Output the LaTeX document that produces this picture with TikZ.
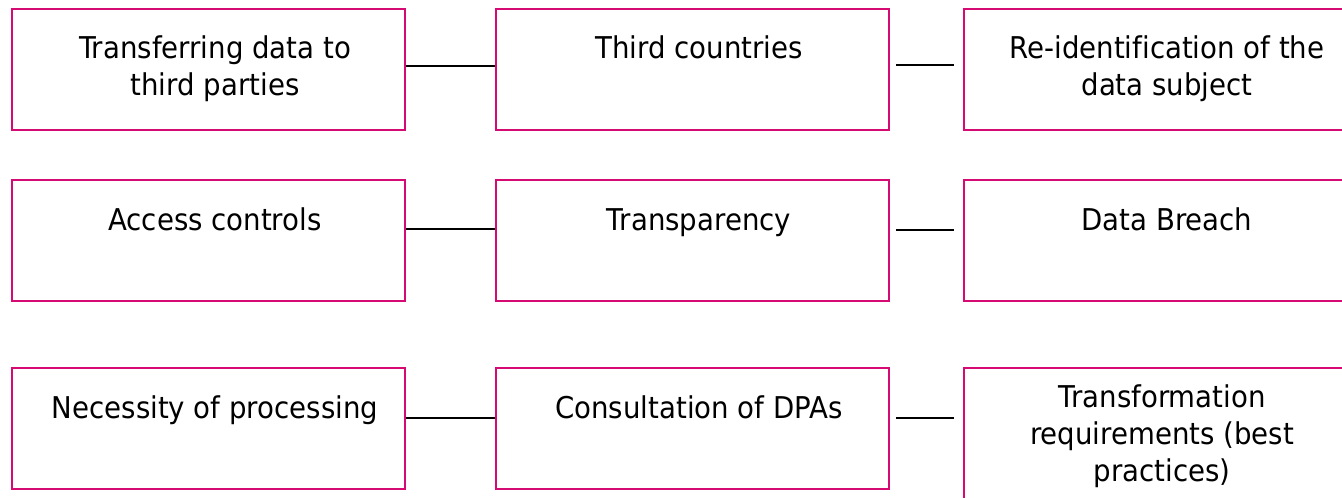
\documentclass[tikz,border=0pt]{standalone}
\usepackage{fontspec}
\setmainfont{DejaVu Sans}[FakeStretch=0.92, Ligatures=NoCommon]
\definecolor{boxpink}{RGB}{214,10,115}
\tikzset{
  box/.style={draw=boxpink, line width=2pt, rectangle, inner sep=0pt,
              minimum width=393pt, minimum height=121pt, anchor=north west},
  tallbox/.style={box, minimum height=150pt},
  txt/.style={anchor=base, inner sep=0pt, font=\fontsize{30}{37}\selectfont},
  link/.style={draw=black, line width=1.8pt}
}
\newcommand{\lines}[1]{\begin{tabular}[t]{@{}c@{}}#1\end{tabular}}
\begin{document}
\begin{tikzpicture}[x=1pt,y=1pt]
\useasboundingbox (0,0) rectangle (1342,-498);
\clip (0,0) rectangle (1342,-498);
% row 1
\node[box] (A1) at (11,-8) {};
\node[box] (B1) at (495,-8) {};
\node[box] (C1) at (963,-8) {};
% row 2
\node[box] (A2) at (11,-179) {};
\node[box] (B2) at (495,-179) {};
\node[box] (C2) at (963,-179) {};
% row 3
\node[box] (A3) at (11,-367) {};
\node[box] (B3) at (495,-367) {};
\node[tallbox] (C3) at (963,-367) {};
% texts
\node[txt] (tA1) at (215,-58) {\lines{Transferring data to\\third parties}};
\node[txt] (tB1) at (699,-58) {Third countries};
\node[txt] (tC1) at (1167,-58) {\lines{Re-identification of the\\data subject}};
\node[txt] (tA2) at (215,-230) {Access controls};
\node[txt] (tB2) at (699,-230) {Transparency};
\node[txt] (tC2) at (1167,-230) {Data Breach};
\node[txt] (tA3) at (215,-418) {Necessity of processing};
\node[txt] (tB3) at (699,-418) {Consultation of DPAs};
\node[txt] (tC3) at (1162,-407) {\lines{Transformation\\requirements (best\\practices)}};
% connectors
\draw[link] ([yshift=-58pt]A1.north east) -- ([yshift=-58pt]B1.north west);
\draw[link] ([shift={(6pt,-57pt)}]B1.north east) -- ([shift={(-9pt,-57pt)}]C1.north west);
\draw[link] ([yshift=-50pt]A2.north east) -- ([yshift=-50pt]B2.north west);
\draw[link] ([shift={(6pt,-51pt)}]B2.north east) -- ([shift={(-9pt,-51pt)}]C2.north west);
\draw[link] ([yshift=-51pt]A3.north east) -- ([yshift=-51pt]B3.north west);
\draw[link] ([shift={(6pt,-51pt)}]B3.north east) -- ([shift={(-9pt,-51pt)}]C3.north west);
\end{tikzpicture}
\end{document}
